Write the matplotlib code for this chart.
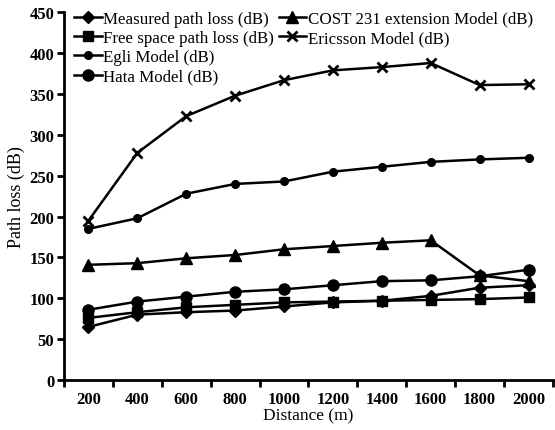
import numpy as np
import matplotlib.pyplot as plt

# Valores
distance = ['200', '400', '600', '800', '1000', '1200', '1400', '1600', '1800', '2000']
measured = [65, 80, 83, 85, 90, 95, 97, 103, 113, 116]
free_space = [76, 83, 89, 92, 95, 96, 97, 98, 99, 101]
egli = [185, 198, 228, 240, 243, 255, 261, 267, 270, 272]
hata = [86, 96, 102, 108, 111, 116, 121, 122, 127, 135]
cost231 = [141, 143, 149, 153, 160, 164, 168, 171, 128, 121]
ericsson = [195, 278, 323, 348, 367, 379, 383, 388, 361, 362]

plt.rcParams['font.family'] = ['Liberation Serif', 'DejaVu Serif']

fig = plt.figure(figsize=(5.55, 4.31), dpi=100)
ax = fig.add_axes([0.1153, 0.116, 0.8811, 0.853])

x = np.arange(len(distance))
lw = 1.8
h1, = ax.plot(x, measured, '-D', color='black', lw=lw, ms=6.5, label='Measured path loss (dB)')
h2, = ax.plot(x, free_space, '-s', color='black', lw=lw, ms=7.5, label='Free space path loss (dB)')
h3, = ax.plot(x, egli, '-o', color='black', lw=lw, ms=5.5, label='Egli Model (dB)')
h4, = ax.plot(x, hata, '-o', color='black', lw=lw, ms=8, label='Hata Model (dB)')
h5, = ax.plot(x, cost231, '-^', color='black', lw=lw, ms=8.5, label='COST 231 extension Model (dB)')
h6, = ax.plot(x, ericsson, '-x', color='black', lw=lw, ms=7.5, mew=2, label='Ericsson Model (dB)')

ax.set_xlim(-0.5, 9.5)
ax.set_ylim(0, 450)
ax.set_yticks(np.arange(0, 451, 50))
ax.set_xticks(x)
ax.set_xticklabels(distance)
ax.set_xticks(np.arange(-0.5, 10, 1), minor=True)
ax.tick_params(axis='x', which='major', length=0, pad=8)
ax.tick_params(axis='x', which='minor', length=5, width=2, direction='out')
ax.tick_params(axis='y', length=5, width=2, direction='out', pad=2)
for lab in ax.get_xticklabels() + ax.get_yticklabels():
    lab.set_fontweight('bold')
    lab.set_fontsize(12)

for s in ['top', 'right']:
    ax.spines[s].set_visible(False)
for s in ['left', 'bottom']:
    ax.spines[s].set_linewidth(2)

ax.set_xlabel('Distance (m)', fontsize=12.5, labelpad=0)
ax.set_ylabel('Path loss (dB)', fontsize=13, labelpad=3)

leg_kw = dict(frameon=False, fontsize=12.2, handlelength=1.6, handletextpad=0.1,
              labelspacing=0.2, borderaxespad=0.1)
leg1 = ax.legend(handles=[h1, h2, h3, h4], loc='upper left', bbox_to_anchor=(0.004, 1.028), **leg_kw)
ax.add_artist(leg1)
ax.legend(handles=[h5, h6], loc='upper left', bbox_to_anchor=(0.422, 1.028), **leg_kw)

fig.savefig('out.png', dpi=100)
